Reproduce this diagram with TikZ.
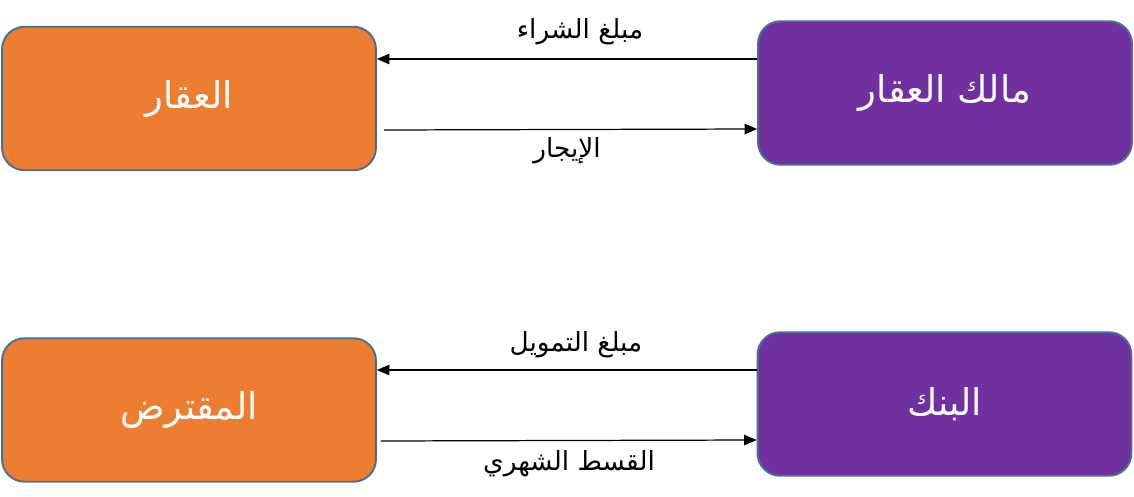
\documentclass[tikz,border=0pt]{standalone}
\usepackage{fontspec}
\usetikzlibrary{arrows.meta,positioning,calc}
\TeXXeTstate=1
\newfontfamily\arabicfont[Script=Arabic]{DejaVu Sans}
\definecolor{partyorange}{HTML}{ED7D31}
\definecolor{partypurple}{HTML}{7030A0}
\definecolor{partyedge}{HTML}{4A6F95}
\newcommand{\artext}[1]{\beginR #1\endR}
\tikzset{
  flow/.style={-{Triangle[length=2.5mm,width=2.1mm]},line width=0.7pt,black},
  party/.style={draw=partyedge,line width=1.1pt,rounded corners=4.5mm,
    minimum width=7.48cm,minimum height=2.87cm,inner sep=0pt,text=white,
    font=\arabicfont\fontsize{21}{25}\selectfont},
  labeltext/.style={font=\arabicfont\fontsize{15}{18}\selectfont,text=black}
}

\begin{document}
\begin{tikzpicture}[x=0.02cm,y=-0.02cm]
\useasboundingbox (0,0) rectangle (1134,497);
% parties
\node[party,fill=partyorange] (realestate) at (189,98.5) {\artext{العقار}};
\node[party,fill=partypurple] (owner) at (945,93) {\artext{مالك العقار}};
\node[party,fill=partyorange] (borrower) at (189,410) {\artext{المقترض}};
\node[party,fill=partypurple] (bank) at (944.5,404) {\artext{البنك}};
% flows
\draw[flow] ($(owner.west)+(0,-34)$) -- ($(realestate.east)+(0,-39.5)$);
\draw[flow] ($(realestate.east)+(7,31.5)$) -- ($(owner.west)+(0,36)$);
\draw[flow] ($(bank.west)+(0,-34)$) -- ($(borrower.east)+(0,-40)$);
\draw[flow] ($(borrower.east)+(4,31)$) -- ($(bank.west)+(0,36)$);
% labels
\node[labeltext] (pricelbl) at (580,32) {\artext{مبلغ الشراء}};
\node[labeltext] (leaselbl) at (567,151) {\artext{الإيجار}};
\node[labeltext] (fundlbl) at (576,345) {\artext{مبلغ التمويل}};
\node[labeltext] (instlbl) at (569,464) {\artext{القسط الشهري}};
\end{tikzpicture}
\end{document}
